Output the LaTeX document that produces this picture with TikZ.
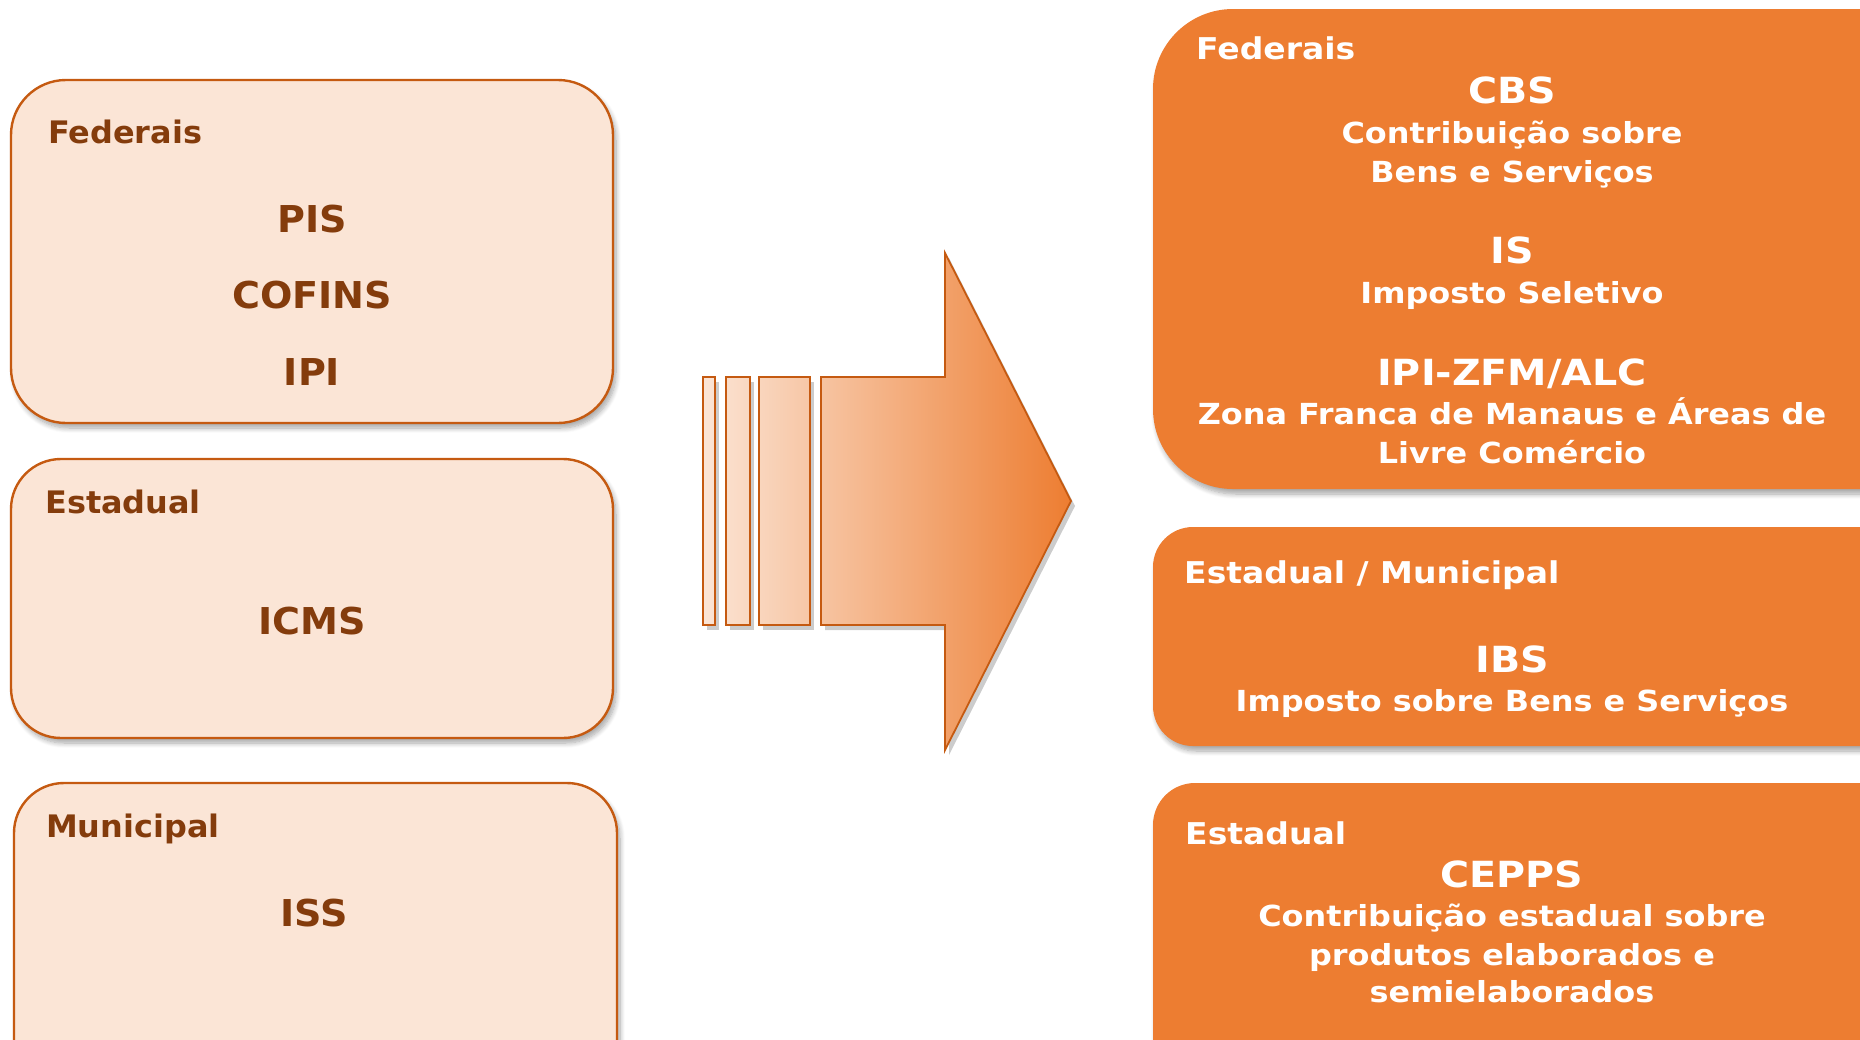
\documentclass[tikz,border=0pt]{standalone}
\usepackage{fontspec}
\setmainfont{DejaVu Sans}[FakeStretch=1.03]
\newfontfamily\widefont{DejaVu Sans}[FakeStretch=1.1]
\usetikzlibrary{shadows,shadows.blur}
\definecolor{paleFill}{HTML}{FBE5D6}
\definecolor{edgeOrange}{HTML}{C55A11}
\definecolor{brownText}{HTML}{843C0C}
\definecolor{mainOrange}{HTML}{ED7D31}
\tikzset{
  softshadow/.style={blur shadow={shadow xshift=3pt, shadow yshift=-5pt,
    shadow blur radius=5pt, shadow blur steps=8, shadow opacity=35}},
  oldbox/.style={draw=edgeOrange, line width=2.4pt, fill=paleFill, softshadow},
  newbox/.style={fill=mainOrange, softshadow},
  lbl/.style={anchor=base west, inner sep=0pt, font=\bfseries\fontsize{31}{37}\selectfont},
  ttl/.style={anchor=base, inner sep=0pt, font=\bfseries\fontsize{37}{44}\selectfont},
  rlbl/.style={anchor=base west, inner sep=0pt, text=white, font=\widefont\bfseries\fontsize{30}{36}\selectfont},
  rttl/.style={anchor=base, inner sep=0pt, text=white, font=\widefont\bfseries\fontsize{36}{42}\selectfont},
  rsub/.style={anchor=base, inner sep=0pt, text=white, font=\widefont\bfseries\fontsize{29}{35}\selectfont},
  barpiece/.style={draw=edgeOrange, line width=1.8pt},
}
\begin{document}
\begin{tikzpicture}[x=1pt, y=-1pt]
\useasboundingbox (0,0) rectangle (1860,1039);
\clip (0,0) rectangle (1860,1039);

% ---- current taxes (left column) ----
\draw[oldbox, rounded corners=55pt] (11,80) rectangle (613,423);
\draw[oldbox, rounded corners=50pt] (11,459) rectangle (613,738);
\draw[oldbox, rounded corners=50pt] (14,783) rectangle (617,1090);

\begin{scope}[text=brownText]
  \node[lbl] (fedL) at (48,143) {Federais};
  \node[ttl] (pis) at (312,232) {PIS};
  \node[ttl] (cofins) at (312,308) {COFINS};
  \node[ttl] (ipi) at (312,385) {IPI};
  \node[lbl] (estL) at (45,513) {Estadual};
  \node[ttl] (icms) at (312,634) {ICMS};
  \node[lbl] (munL) at (46,837) {Municipal};
  \node[ttl] (iss) at (314,926) {ISS};
\end{scope}

% ---- transition arrow with trailing bars ----
\begin{scope}[opacity=0.2, black]
  \fill (707,382) rectangle (719,630);
  \fill (730,382) rectangle (754,630);
  \fill (763,382) rectangle (814,630);
  \fill (825,382) -- (949,382) -- (949,258) -- (1075,506) -- (949,755) -- (949,630) -- (825,630) -- cycle;
\end{scope}
\begin{scope}
  \clip (703,377) rectangle (715,625)
        (726,377) rectangle (750,625)
        (759,377) rectangle (810,625)
        (821,377) -- (945,377) -- (945,253) -- (1071,501) -- (945,750) -- (945,625) -- (821,625) -- cycle;
  \shade[left color=paleFill, right color=mainOrange] (703,253) rectangle (1071,750);
\end{scope}
\draw[barpiece] (703,377) rectangle (715,625);
\draw[barpiece] (726,377) rectangle (750,625);
\draw[barpiece] (759,377) rectangle (810,625);
\draw[barpiece, line join=miter] (821,377) -- (945,377) -- (945,253) -- (1071,501) -- (945,750) -- (945,625) -- (821,625) -- cycle;

% ---- new taxes (right column) ----
\fill[newbox, rounded corners=80pt] (1153,9) rectangle (1960,489);
\fill[newbox, rounded corners=40pt] (1153,527) rectangle (1960,746);
\fill[newbox, rounded corners=42pt] (1153,783) rectangle (1960,1110);

\node[rlbl] (fedR) at (1196,59) {Federais};
\node[rttl] (cbs) at (1512,103) {CBS};
\node[rsub] (cbs1) at (1512,143) {Contribuição sobre};
\node[rsub] (cbs2) at (1512,182) {Bens e Serviços};
\node[rttl] (is) at (1512,263) {IS};
\node[rsub] (is1) at (1512,303) {Imposto Seletivo};
\node[rttl] (zfm) at (1512,385) {IPI-ZFM/ALC};
\node[rsub] (zfm1) at (1512,424) {Zona Franca de Manaus e Áreas de};
\node[rsub] (zfm2) at (1512,463) {Livre Comércio};

\node[rlbl] (emR) at (1184,583) {Estadual / Municipal};
\node[rttl] (ibs) at (1512,672) {IBS};
\node[rsub] (ibs1) at (1512,711) {Imposto sobre Bens e Serviços};

\node[rlbl] (estR) at (1185,844) {Estadual};
\node[rttl] (cepps) at (1512,887) {CEPPS};
\node[rsub] (cepps1) at (1512,926) {Contribuição estadual sobre};
\node[rsub] (cepps2) at (1512,965) {produtos elaborados e};
\node[rsub] (cepps3) at (1512,1002) {semielaborados};
\end{tikzpicture}
\end{document}
